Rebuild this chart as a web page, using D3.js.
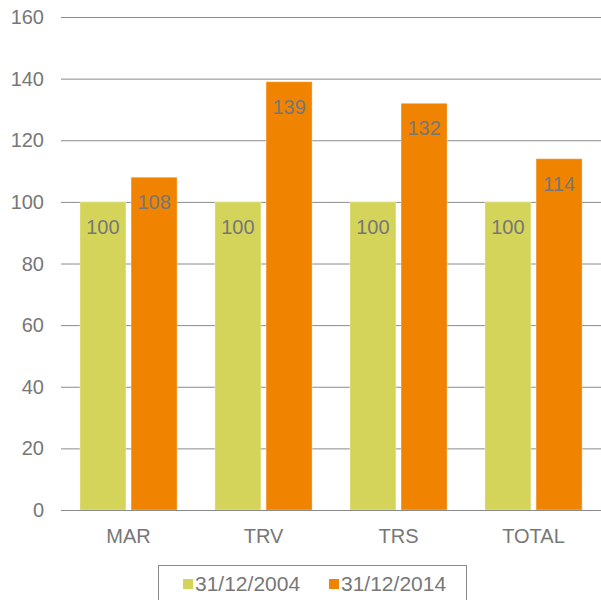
<!DOCTYPE html>
<meta charset="utf-8">
<script src="https://d3js.org/d3.v7.min.js"></script>
<style>
  body { margin: 0; background: #fff; }
  text { font-family: "Liberation Sans", Arial, sans-serif; fill: #777; }
</style>
<div id="chart"></div>
<script>
  // data
  var categories = ["MAR", "TRV", "TRS", "TOTAL"];
  var seriesNames = ["31/12/2004", "31/12/2014"];
  var values2004 = [100, 100, 100, 100];
  var values2014 = [108, 139, 132, 114];
  var yTicks = [0, 20, 40, 60, 80, 100, 120, 140, 160];
  var colors = ["#d4d45a", "#f08300"];

  var margin = {top: 17, right: 0, bottom: 90, left: 61},
    width = 601 - margin.left - margin.right,
    height = 600 - margin.top - margin.bottom;

  var svg = d3.select("#chart").append("svg")
    .attr("width", 601).attr("height", 600)
    .append("g")
    .attr("transform", "translate(" + margin.left + "," + margin.top + ")");

  var x = d3.scaleBand().domain(categories).range([0, width]).paddingInner(0.28).paddingOuter(0.14);
  var x1 = d3.scaleBand().domain(seriesNames).range([0, x.bandwidth()]).paddingInner(0.1);
  var y = d3.scaleLinear().domain([0, 160]).range([height, 0]);

  // gridlines
  svg.selectAll(".grid").data(yTicks).enter().append("line")
    .attr("x1", 0).attr("x2", width)
    .attr("y1", function(d) { return y(d) + 0.5; })
    .attr("y2", function(d) { return y(d) + 0.5; })
    .style("stroke", "#8a8a8a").style("stroke-width", 1);

  // y labels
  svg.selectAll(".ylab").data(yTicks).enter().append("text")
    .attr("x", -17).attr("y", function(d) { return y(d); })
    .attr("dy", "0.35em").attr("text-anchor", "end")
    .style("font-size", "20px")
    .text(function(d) { return d; });

  var rows = categories.map(function(c, i) {
    return {cat: c, vals: [values2004[i], values2014[i]]};
  });

  var groups = svg.selectAll(".grp").data(rows).enter().append("g")
    .attr("transform", function(d) { return "translate(" + x(d.cat) + ",0)"; });

  groups.selectAll("rect").data(function(d) {
    return d.vals.map(function(v, j) { return {s: seriesNames[j], v: v, j: j}; });
  }).enter().append("rect")
    .attr("x", function(d) { return x1(d.s); })
    .attr("width", x1.bandwidth())
    .attr("y", function(d) { return y(d.v); })
    .attr("height", function(d) { return height - y(d.v); })
    .style("fill", function(d) { return colors[d.j]; })
    .style("stroke", "#fff").style("stroke-opacity", 0.35).style("stroke-width", 1);

  groups.selectAll(".val").data(function(d) {
    return d.vals.map(function(v, j) { return {s: seriesNames[j], v: v}; });
  }).enter().append("text")
    .attr("x", function(d) { return x1(d.s) + x1.bandwidth() / 2; })
    .attr("y", function(d) { return y(d.v) + 25; })
    .attr("dy", "0.35em").attr("text-anchor", "middle")
    .style("font-size", "20px")
    .text(function(d) { return d.v; });

  // baseline axis
  svg.append("line").attr("x1", 0).attr("x2", width)
    .attr("y1", height + 0.5).attr("y2", height + 0.5)
    .style("stroke", "#8a8a8a");

  svg.selectAll(".xlab").data(categories).enter().append("text")
    .attr("x", function(d) { return x(d) + x.bandwidth() / 2; })
    .attr("y", height + 26).attr("dy", "0.35em")
    .attr("text-anchor", "middle").style("font-size", "20px")
    .text(function(d) { return d; });

  // legend
  var lg = svg.append("g").attr("transform", "translate(" + (158 - margin.left) + "," + (565 - margin.top) + ")");
  lg.append("rect").attr("x", 0.5).attr("y", 0.5).attr("width", 308).attr("height", 50)
    .style("fill", "none").style("stroke", "#8a8a8a");
  var items = [{n: seriesNames[0], x: 25}, {n: seriesNames[1], x: 171}];
  items.forEach(function(it, j) {
    lg.append("rect").attr("x", it.x).attr("y", 14).attr("width", 10).attr("height", 10)
      .style("fill", colors[j]);
    lg.append("text").attr("x", it.x + 12).attr("y", 19).attr("dy", "0.35em")
      .style("font-size", "21px").text(it.n);
  });
</script>
